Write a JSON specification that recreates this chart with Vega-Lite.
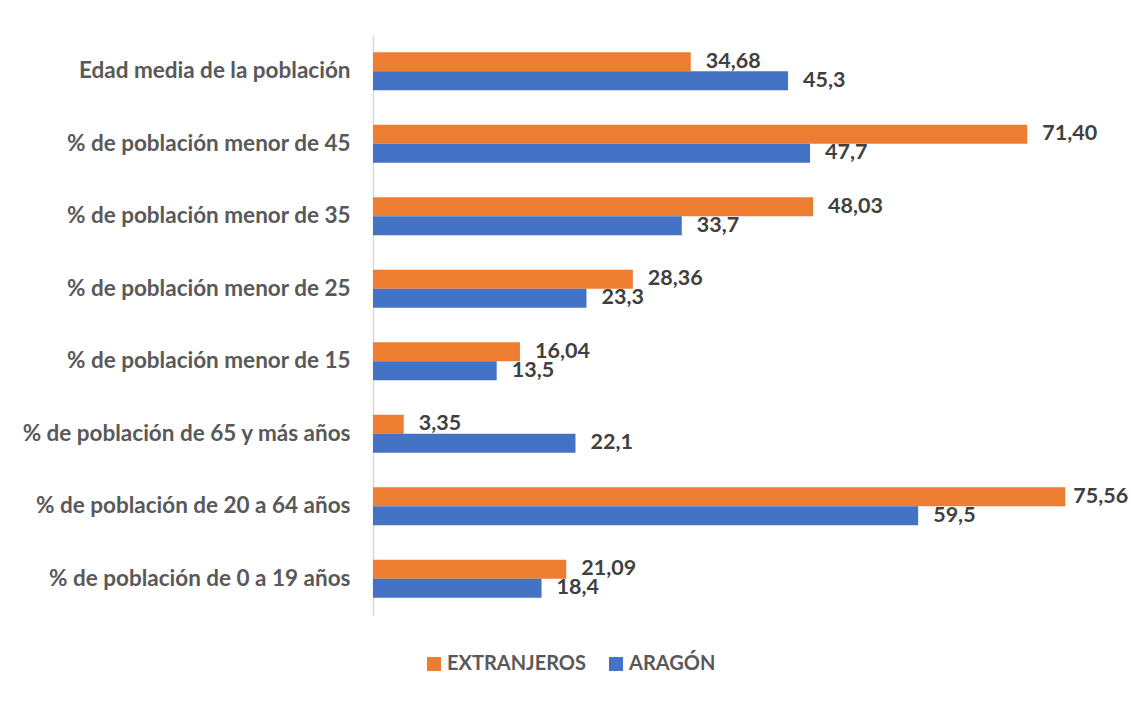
{
  "$schema": "https://vega.github.io/schema/vega-lite/v6.json",
  "width": 733,
  "height": 580,
  "autosize": {"type": "none"},
  "padding": {"left": 373, "top": 35, "right": 25, "bottom": 87},
  "background": "white",
  "config": {
    "view": {"stroke": null},
    "font": "Lato"
  },
  "data": {
    "values": [
      {"cat": "Edad media de la población", "serie": "EXTRANJEROS", "v": 34.68, "lab": "34,68"},
      {"cat": "Edad media de la población", "serie": "ARAGÓN", "v": 45.3, "lab": "45,3"},
      {"cat": "% de población menor de 45", "serie": "EXTRANJEROS", "v": 71.40, "lab": "71,40"},
      {"cat": "% de población menor de 45", "serie": "ARAGÓN", "v": 47.7, "lab": "47,7"},
      {"cat": "% de población menor de 35", "serie": "EXTRANJEROS", "v": 48.03, "lab": "48,03"},
      {"cat": "% de población menor de 35", "serie": "ARAGÓN", "v": 33.7, "lab": "33,7"},
      {"cat": "% de población menor de 25", "serie": "EXTRANJEROS", "v": 28.36, "lab": "28,36"},
      {"cat": "% de población menor de 25", "serie": "ARAGÓN", "v": 23.3, "lab": "23,3"},
      {"cat": "% de población menor de 15", "serie": "EXTRANJEROS", "v": 16.04, "lab": "16,04"},
      {"cat": "% de población menor de 15", "serie": "ARAGÓN", "v": 13.5, "lab": "13,5"},
      {"cat": "% de población de 65 y más años", "serie": "EXTRANJEROS", "v": 3.35, "lab": "3,35"},
      {"cat": "% de población de 65 y más años", "serie": "ARAGÓN", "v": 22.1, "lab": "22,1"},
      {"cat": "% de población de 20 a 64 años", "serie": "EXTRANJEROS", "v": 75.56, "lab": "75,56"},
      {"cat": "% de población de 20 a 64 años", "serie": "ARAGÓN", "v": 59.5, "lab": "59,5"},
      {"cat": "% de población de 0 a 19 años", "serie": "EXTRANJEROS", "v": 21.09, "lab": "21,09"},
      {"cat": "% de población de 0 a 19 años", "serie": "ARAGÓN", "v": 18.4, "lab": "18,4"}
    ]
  },
  "encoding": {
    "y": {
      "field": "cat", "type": "nominal", "sort": null, "title": null,
      "scale": {"paddingInner": 0.476, "paddingOuter": 0.238},
      "axis": {
        "domain": true, "domainColor": "#d9d9d9", "domainWidth": 1.5,
        "ticks": false, "labelPadding": 23, "labelFontSize": 22.5,
        "labelFontWeight": "bold", "labelColor": "#595959", "labelFont": "Lato",
        "labelLimit": 400
      }
    },
    "yOffset": {
      "field": "serie", "type": "nominal",
      "sort": ["EXTRANJEROS", "ARAGÓN"],
      "scale": {"paddingInner": 0, "paddingOuter": 0}
    },
    "x": {
      "field": "v", "type": "quantitative",
      "scale": {"domain": [0, 80], "nice": false},
      "axis": null
    }
  },
  "layer": [
    {
      "mark": {"type": "bar"},
      "encoding": {
        "color": {
          "field": "serie", "type": "nominal",
          "sort": ["EXTRANJEROS", "ARAGÓN"],
          "scale": {"domain": ["EXTRANJEROS", "ARAGÓN"], "range": ["#ED7D31", "#4472C4"]},
          "legend": {
            "title": null, "orient": "none", "direction": "horizontal",
            "legendX": 51, "legendY": 619,
            "symbolType": "square", "symbolSize": 196, "symbolStrokeWidth": 0,
            "labelFontSize": 20, "labelFontWeight": "bold", "labelColor": "#595959",
            "labelFont": "Lato", "columnPadding": 20, "labelOffset": 3
          }
        }
      }
    },
    {
      "transform": [{"filter": "datum.v < 75"}],
      "mark": {"type": "text", "align": "left", "baseline": "middle", "dx": 15,
               "fontSize": 21.5, "fontWeight": "bold", "color": "#404040", "font": "Lato"},
      "encoding": {"text": {"field": "lab"}}
    },
    {
      "transform": [{"filter": "datum.v >= 75"}],
      "mark": {"type": "text", "align": "left", "baseline": "middle", "dx": 8,
               "fontSize": 21.5, "fontWeight": "bold", "color": "#404040", "font": "Lato"},
      "encoding": {"text": {"field": "lab"}}
    }
  ]
}
